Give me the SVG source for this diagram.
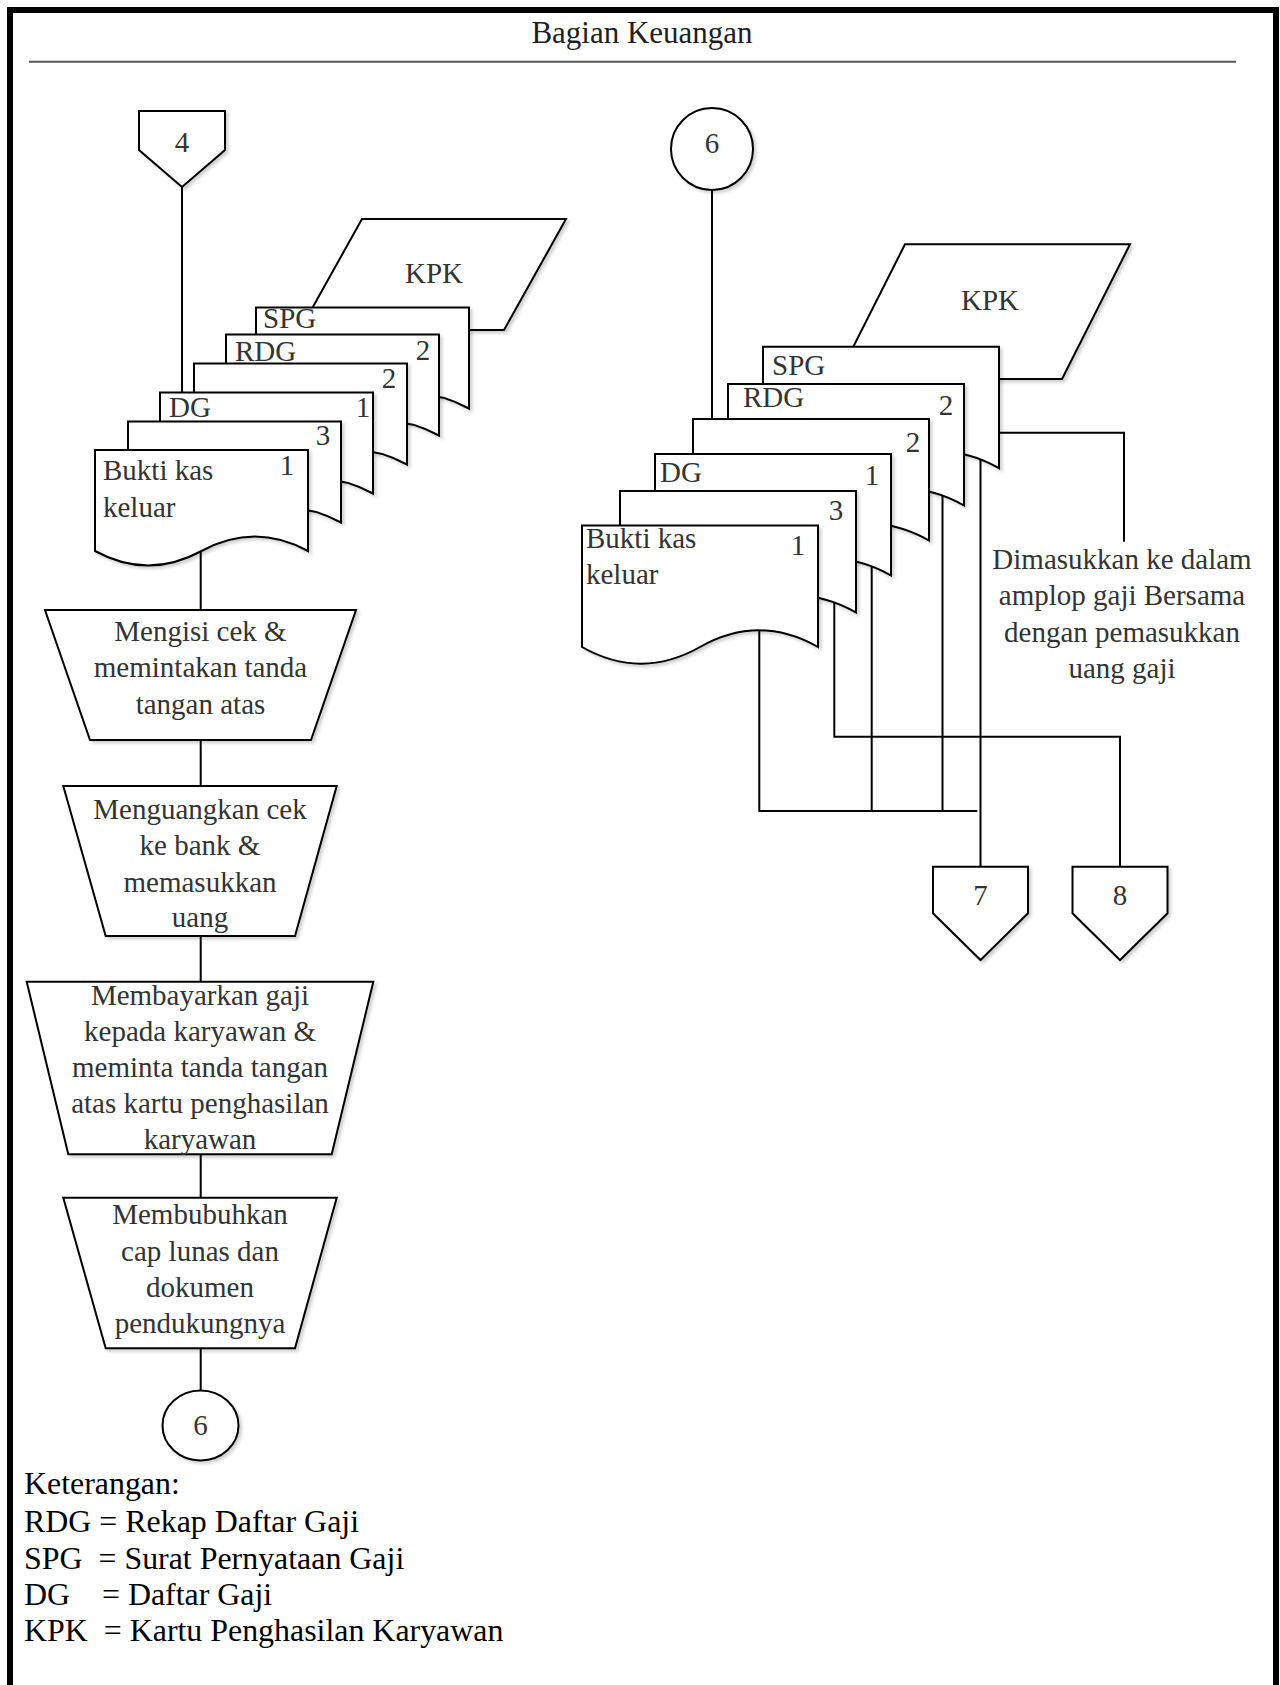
<svg xmlns="http://www.w3.org/2000/svg" width="1280" height="1685" viewBox="0 0 1280 1685">
  <defs>
    <filter id="shadow" x="-10%" y="-10%" width="130%" height="130%">
      <feDropShadow dx="2.5" dy="2.5" stdDeviation="1.5" flood-color="#000" flood-opacity="0.18"/>
    </filter>
    <style>
      .shape { fill: #fff; stroke: #000; stroke-width: 2; stroke-linejoin: miter; filter: url(#shadow); }
      .line { fill: none; stroke: #000; stroke-width: 2; }
      .t { font-family: "Liberation Serif", "Times New Roman", serif; font-size: 29px; fill: #333; }
      .c { text-anchor: middle; }
      .title { font-family: "Liberation Serif", "Times New Roman", serif; font-size: 31px; fill: #1f1f1f; text-anchor: middle; }
      .legend { font-family: "Liberation Serif", "Times New Roman", serif; font-size: 31.9px; fill: #000; white-space: pre; }
    </style>
  </defs>

  <rect width="1280" height="1685" fill="#fff"/>

  <!-- swimlane frame and header -->
  <g id="lane">
    <rect x="10" y="10" width="1266" height="1700" fill="none" stroke="#000" stroke-width="6"/>
    <line x1="29" y1="61.7" x2="1236" y2="61.7" stroke="#595959" stroke-width="2"/>
    <text class="title" x="642" y="43">Bagian Keuangan</text>
  </g>

  <!-- connectors -->
  <g id="connectors">
    <!-- left column -->
    <line class="line" x1="182" y1="186" x2="182" y2="393"/>
    <line class="line" x1="200.7" y1="540" x2="200.7" y2="610"/>
    <line class="line" x1="200.7" y1="740" x2="200.7" y2="786"/>
    <line class="line" x1="200.7" y1="936" x2="200.7" y2="982"/>
    <line class="line" x1="200.7" y1="1154" x2="200.7" y2="1198"/>
    <line class="line" x1="200.7" y1="1348" x2="200.7" y2="1391"/>
    <!-- right column -->
    <line class="line" x1="712" y1="190" x2="712" y2="420"/>
    <polyline class="line" points="990,432.7 1124,432.7 1124,541.7"/>
    <polyline class="line" points="759.3,620 759.3,811 977.3,811"/>
    <polyline class="line" points="834.3,590 834.3,736.7 1120,736.7 1120,866.7"/>
    <line class="line" x1="871.7" y1="555" x2="871.7" y2="811"/>
    <line class="line" x1="942.5" y1="485" x2="942.5" y2="811"/>
    <line class="line" x1="980.5" y1="450" x2="980.5" y2="866.7"/>
  </g>

  <!-- off-page connector 4 -->
  <g id="offpage-4">
    <polygon class="shape" points="139,111 225,111 225,150 182,187 139,150"/>
    <text class="t c" x="182" y="151.7">4</text>
  </g>

  <!-- left document stack -->
  <g id="kpk-left">
    <polygon class="shape" points="362,219 566,219 504,330 300,330"/>
    <text class="t c" x="434" y="283">KPK</text>
  </g>
  <g id="spg-left">
    <path class="shape" d="M256 307.5 H469 V408.5 Q415.75 379.5 362.5 408.5 Q309.25 437.5 256 408.5 Z"/>
    <text class="t" x="263" y="328">SPG</text>
  </g>
  <g id="rdg-left">
    <path class="shape" d="M226 334.5 H439 V435.5 Q385.75 406.5 332.5 435.5 Q279.25 464.5 226 435.5 Z"/>
    <text class="t" x="235" y="361">RDG</text>
    <text class="t c" x="423" y="360">2</text>
  </g>
  <g id="doc2-left">
    <path class="shape" d="M194 363.5 H407 V464.5 Q353.75 435.5 300.5 464.5 Q247.25 493.5 194 464.5 Z"/>
    <text class="t c" x="389" y="388">2</text>
  </g>
  <g id="dg-left">
    <path class="shape" d="M160 392.5 H373 V493.5 Q319.75 464.5 266.5 493.5 Q213.25 522.5 160 493.5 Z"/>
    <text class="t" x="169" y="417">DG</text>
    <text class="t c" x="363" y="417">1</text>
  </g>
  <g id="doc3-left">
    <path class="shape" d="M128 421.5 H341 V522.5 Q287.75 493.5 234.5 522.5 Q181.25 551.5 128 522.5 Z"/>
    <text class="t c" x="323" y="445">3</text>
  </g>
  <g id="bkk-left">
    <path class="shape" d="M95 450 H308 V551 Q254.75 522 201.5 551 Q148.25 580 95 551 Z"/>
    <text class="t" x="103" y="480">Bukti kas</text>
    <text class="t" x="103" y="516.7">keluar</text>
    <text class="t c" x="287" y="475">1</text>
  </g>

  <!-- manual operations -->
  <g id="op-isi-cek">
    <polygon class="shape" points="45,610 356,610 311,740 90,740"/>
    <text class="t c" x="200.5" y="641">Mengisi cek &amp;</text>
    <text class="t c" x="200.5" y="677">memintakan tanda</text>
    <text class="t c" x="200.5" y="714">tangan atas</text>
  </g>
  <g id="op-uangkan-cek">
    <polygon class="shape" points="63.3,786 336.7,786 295,936 105.7,936"/>
    <text class="t c" x="200" y="818.6">Menguangkan cek</text>
    <text class="t c" x="200" y="855">ke bank &amp;</text>
    <text class="t c" x="200" y="891.8">memasukkan</text>
    <text class="t c" x="200" y="927">uang</text>
  </g>
  <g id="op-bayar-gaji">
    <polygon class="shape" points="26.7,981.7 373.3,981.7 331.7,1154.3 68.3,1154.3"/>
    <text class="t c" x="200" y="1005">Membayarkan gaji</text>
    <text class="t c" x="200" y="1041">kepada karyawan &amp;</text>
    <text class="t c" x="200" y="1077.3">meminta tanda tangan</text>
    <text class="t c" x="200" y="1113.3">atas kartu penghasilan</text>
    <text class="t c" x="200" y="1149.3">karyawan</text>
  </g>
  <g id="op-cap-lunas">
    <polygon class="shape" points="63.3,1197.7 336.7,1197.7 295,1348.3 105.7,1348.3"/>
    <text class="t c" x="200" y="1224.3">Membubuhkan</text>
    <text class="t c" x="200" y="1261">cap lunas dan</text>
    <text class="t c" x="200" y="1297.3">dokumen</text>
    <text class="t c" x="200" y="1332.7">pendukungnya</text>
  </g>

  <!-- on-page connector 6 (out) -->
  <g id="onpage-6-out">
    <ellipse class="shape" cx="200.5" cy="1425.5" rx="38" ry="35"/>
    <text class="t c" x="200.5" y="1435">6</text>
  </g>

  <!-- on-page connector 6 (in) -->
  <g id="onpage-6-in">
    <circle class="shape" cx="712" cy="149" r="41"/>
    <text class="t c" x="712" y="153">6</text>
  </g>

  <!-- right document stack -->
  <g id="kpk-right">
    <polygon class="shape" points="905,244.3 1130,244.3 1062,379 837,379"/>
    <text class="t c" x="990" y="310">KPK</text>
  </g>
  <g id="spg-right">
    <path class="shape" d="M763 346.7 H999 V468.2 Q940 434.8 881 468.2 Q822 501.6 763 468.2 Z"/>
    <text class="t" x="772" y="375">SPG</text>
  </g>
  <g id="rdg-right">
    <path class="shape" d="M728 384 H964 V505.5 Q905 472.1 846 505.5 Q787 538.9 728 505.5 Z"/>
    <text class="t" x="743" y="407">RDG</text>
    <text class="t c" x="946" y="415">2</text>
  </g>
  <g id="doc2-right">
    <path class="shape" d="M693 419 H929 V540.5 Q870 507.1 811 540.5 Q752 573.9 693 540.5 Z"/>
    <text class="t c" x="913" y="452">2</text>
  </g>
  <g id="dg-right">
    <path class="shape" d="M655 454 H891 V575.5 Q832 542.1 773 575.5 Q714 608.9 655 575.5 Z"/>
    <text class="t" x="660" y="482">DG</text>
    <text class="t c" x="872" y="485">1</text>
  </g>
  <g id="doc3-right">
    <path class="shape" d="M620 491 H856 V612.5 Q797 579.1 738 612.5 Q679 645.9 620 612.5 Z"/>
    <text class="t c" x="836" y="520">3</text>
  </g>
  <g id="bkk-right">
    <path class="shape" d="M582 525.5 H818 V647 Q759 613.6 700 647 Q641 680.4 582 647 Z"/>
    <text class="t" x="586" y="548">Bukti kas</text>
    <text class="t" x="586" y="584">keluar</text>
    <text class="t c" x="798" y="555">1</text>
  </g>

  <!-- annotation -->
  <g id="note-amplop">
    <text class="t c" x="1122" y="568.5">Dimasukkan ke dalam</text>
    <text class="t c" x="1122" y="605">amplop gaji Bersama</text>
    <text class="t c" x="1122" y="641.5">dengan pemasukkan</text>
    <text class="t c" x="1122" y="678">uang gaji</text>
  </g>

  <!-- off-page connectors 7 and 8 -->
  <g id="offpage-7">
    <polygon class="shape" points="933,866.7 1028,866.7 1028,913.3 980.5,960 933,913.3"/>
    <text class="t c" x="980.5" y="905">7</text>
  </g>
  <g id="offpage-8">
    <polygon class="shape" points="1072.5,866.7 1167.5,866.7 1167.5,913.3 1120,960 1072.5,913.3"/>
    <text class="t c" x="1120" y="905">8</text>
  </g>

  <!-- legend -->
  <g id="legend">
    <text class="legend" x="24" y="1494">Keterangan:</text>
    <text class="legend" x="24" y="1532">RDG = Rekap Daftar Gaji</text>
    <text class="legend" x="24" y="1569">SPG  = Surat Pernyataan Gaji</text>
    <text class="legend" x="24" y="1605">DG    = Daftar Gaji</text>
    <text class="legend" x="24" y="1641">KPK  = Kartu Penghasilan Karyawan</text>
  </g>
</svg>
